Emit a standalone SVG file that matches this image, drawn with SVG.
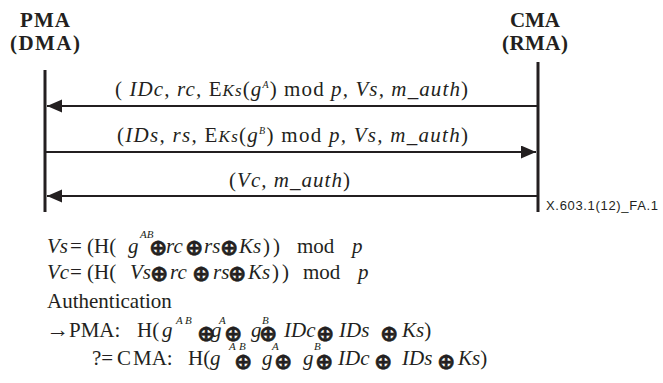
<svg xmlns="http://www.w3.org/2000/svg" width="663" height="383" viewBox="0 0 663 383">
<style>
text{font-family:"Liberation Serif","DejaVu Serif",serif;fill:#231f20;font-size:21px}
.hd{font-weight:bold;text-anchor:middle}
.i{font-style:italic}
.sup{font-size:11px;font-style:italic}
.op{font-family:"DejaVu Sans",sans-serif;font-weight:bold;font-size:22px;stroke:#231f20;stroke-width:0.6}
.sans{font-family:"Liberation Sans",Arial,sans-serif;font-size:13px}
.life{stroke:#231f20;stroke-width:3;fill:none}
.msg{stroke:#231f20;stroke-width:2.2;fill:none}
</style>
<defs>
<marker id="ah" markerUnits="userSpaceOnUse" markerWidth="16" markerHeight="14" refX="15" refY="6.5" orient="auto">
<path d="M0,0 L15,6.5 L0,13 Z" fill="#231f20"/>
</marker>
</defs>
<g id="pma">
<text class="hd" x="45" y="27" textLength="50">PMA</text>
<text class="hd" x="45" y="50" textLength="70">(DMA)</text>
<line class="life" x1="45" y1="70" x2="45" y2="212"/>
</g>
<g id="cma">
<text class="hd" x="535" y="27" textLength="50">CMA</text>
<text class="hd" x="535" y="50" textLength="66">(RMA)</text>
<line class="life" x1="538" y1="62" x2="538" y2="212"/>
</g>
<g id="connectors">
<line class="msg" x1="538" y1="106" x2="47" y2="106" marker-end="url(#ah)"/>
<line class="msg" x1="45" y1="152" x2="536" y2="152" marker-end="url(#ah)"/>
<line class="msg" x1="538" y1="196" x2="47" y2="196" marker-end="url(#ah)"/>
</g>
<g id="label1">
<text x="115" y="96" textLength="353" lengthAdjust="spacing">( <tspan class="i">IDc,</tspan> <tspan class="i">rc,</tspan> E<tspan class="i" font-size="17">Ks</tspan>(<tspan class="i">g</tspan><tspan font-size="10" dy="-8" class="i">A</tspan><tspan dy="8">)</tspan> mod <tspan class="i">p,</tspan> <tspan class="i">Vs,</tspan> <tspan class="i">m_auth</tspan>)</text>
</g>
<g id="label2">
<text x="117" y="142" textLength="351" lengthAdjust="spacing">(<tspan class="i">IDs,</tspan> <tspan class="i">rs,</tspan> E<tspan class="i" font-size="17">Ks</tspan>(<tspan class="i">g</tspan><tspan font-size="10" dy="-8" class="i">B</tspan><tspan dy="8">)</tspan> mod <tspan class="i">p,</tspan> <tspan class="i">Vs,</tspan> <tspan class="i">m_auth</tspan>)</text>
</g>
<g id="label3">
<text x="229" y="187" textLength="121" lengthAdjust="spacing">(<tspan class="i">Vc,</tspan> <tspan class="i">m_auth</tspan>)</text>
</g>
<g id="figid">
<text class="sans" x="546" y="210" textLength="112" lengthAdjust="spacing">X.603.1(12)_FA.1</text>
</g>
<g id="equations">
<text y="253"><tspan class="i" x="47">Vs</tspan><tspan x="70">=</tspan><tspan x="87">(H(</tspan><tspan class="i" x="128">g</tspan><tspan class="sup" x="140" y="238">AB</tspan><tspan class="op" x="149" y="255">⊕</tspan><tspan class="i" x="166" y="253">rc</tspan><tspan class="op" x="185" y="255">⊕</tspan><tspan class="i" x="204" y="253">rs</tspan><tspan class="op" x="220" y="255">⊕</tspan><tspan class="i" x="239" y="253">Ks</tspan><tspan x="263">)</tspan><tspan x="273">)</tspan><tspan x="297">mod</tspan><tspan class="i" x="352">p</tspan></text>
<text y="279"><tspan class="i" x="47">Vc</tspan><tspan x="70">=</tspan><tspan x="87">(H(</tspan><tspan class="i" x="130">Vs</tspan><tspan class="op" x="150" y="281">⊕</tspan><tspan class="i" x="170" y="279">rc</tspan><tspan class="op" x="192" y="281">⊕</tspan><tspan class="i" x="213" y="279">rs</tspan><tspan class="op" x="228" y="281">⊕</tspan><tspan class="i" x="248" y="279">Ks</tspan><tspan x="272">)</tspan><tspan x="282">)</tspan><tspan x="303">mod</tspan><tspan class="i" x="358">p</tspan></text>
<text x="47" y="308">Authentication</text>
<text y="337"><tspan x="46" font-size="23">→</tspan><tspan x="69">PMA:</tspan><tspan x="137">H(</tspan><tspan class="i" x="162">g</tspan><tspan class="sup" x="176" y="324">A</tspan><tspan class="sup" x="185" y="324">B</tspan><tspan class="op" x="197" y="341">⊕</tspan><tspan class="i" x="211" y="337">g</tspan><tspan class="sup" x="219" y="324">A</tspan><tspan class="op" x="224" y="341">⊕</tspan><tspan class="i" x="251" y="337">g</tspan><tspan class="sup" x="262" y="324">B</tspan><tspan class="op" x="259" y="341">⊕</tspan><tspan class="i" x="284" y="337">IDc</tspan><tspan class="op" x="316" y="341">⊕</tspan><tspan class="i" x="339" y="337">IDs</tspan><tspan class="op" x="380" y="341">⊕</tspan><tspan class="i" x="402" y="337">Ks</tspan><tspan>)</tspan></text>
<text y="365"><tspan x="92">?=</tspan><tspan x="117">C</tspan><tspan x="133">MA:</tspan><tspan x="188">H(</tspan><tspan class="i" x="210">g</tspan><tspan class="sup" x="229" y="350">A</tspan><tspan class="sup" x="239" y="350">B</tspan><tspan class="op" x="234" y="369">⊕</tspan><tspan class="i" x="262" y="365">g</tspan><tspan class="sup" x="272" y="350">A</tspan><tspan class="op" x="274" y="369">⊕</tspan><tspan class="i" x="303" y="365">g</tspan><tspan class="sup" x="314" y="350">B</tspan><tspan class="op" x="315" y="369">⊕</tspan><tspan class="i" x="338" y="365">IDc</tspan><tspan class="op" x="374" y="369">⊕</tspan><tspan class="i" x="402" y="365">IDs</tspan><tspan class="op" x="437" y="369">⊕</tspan><tspan class="i" x="458" y="365">Ks</tspan><tspan>)</tspan></text>
</g>
</svg>
